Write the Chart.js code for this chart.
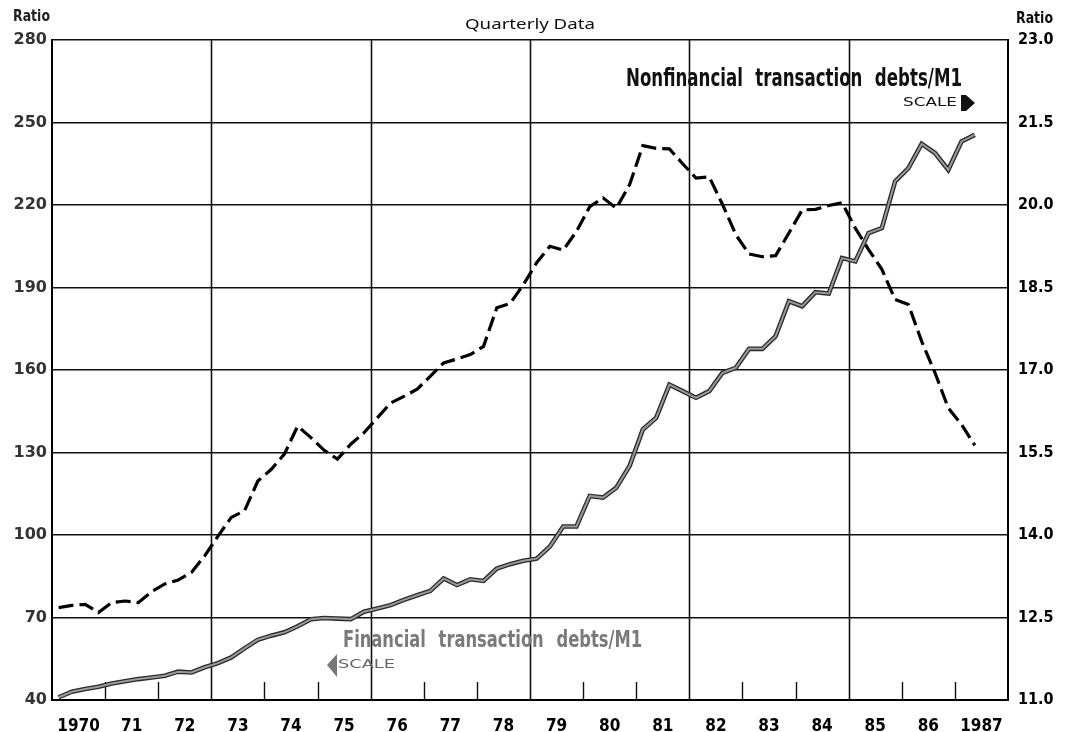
<!DOCTYPE html>
<html>
<head>
<meta charset="utf-8">
<script src="https://cdn.jsdelivr.net/npm/chart.js@4.4.1/dist/chart.umd.min.js"></script>
<style>
  html, body { margin: 0; padding: 0; background: #fff; }
</style>
</head>
<body>
<canvas id="chart" width="1072" height="732"></canvas>
<script>
// Quarterly data, first point = 1970 Q1, last point = 1987 Q2
const firstYear = 1970;
const lastYear = 1988;

// left scale
const financialDebtsM1 = [
    41.0, 43.0, 44.0, 44.8,     // 1970
    46.0, 46.8, 47.6, 48.2,     // 1971
    48.8, 50.3, 50.0, 51.9,     // 1972
    53.4, 55.5, 58.8, 61.9,     // 1973
    63.4, 64.6, 66.8, 69.4,     // 1974
    69.8, 69.6, 69.4, 72.1,     // 1975
    73.3, 74.5, 76.4, 78.1,     // 1976
    79.7, 84.2, 81.8, 83.9,     // 1977
    83.3, 87.8, 89.4, 90.6,     // 1978
    91.4, 95.8, 103.1, 103.1,   // 1979
    114.2, 113.6, 117.2, 125.1, // 1980
    138.4, 142.6, 154.7, 152.3, // 1981
    149.9, 152.3, 159.0, 160.8, // 1982
    167.7, 167.7, 172.3, 185.0, // 1983
    183.2, 188.3, 187.8, 200.7, // 1984
    199.5, 209.8, 211.6, 228.6, // 1985
    233.4, 242.2, 238.9, 232.8, // 1986
    243.1, 245.5                // 1987
];

// right scale
const nonfinancialDebtsM1 = [
    12.68, 12.72, 12.74, 12.59, // 1970
    12.77, 12.80, 12.77, 12.97, // 1971
    13.11, 13.18, 13.32, 13.62, // 1972
    13.98, 14.32, 14.44, 14.98, // 1973
    15.19, 15.47, 15.98, 15.77, // 1974
    15.54, 15.38, 15.65, 15.86, // 1975
    16.13, 16.40, 16.52, 16.65, // 1976
    16.89, 17.13, 17.20, 17.28, // 1977
    17.43, 18.13, 18.21, 18.55, // 1978
    18.95, 19.25, 19.18, 19.52, // 1979
    19.97, 20.13, 19.94, 20.37, // 1980
    21.08, 21.03, 21.02, 20.75, // 1981
    20.49, 20.51, 20.01, 19.46, // 1982
    19.11, 19.06, 19.08, 19.49, // 1983
    19.91, 19.92, 19.99, 20.04, // 1984
    19.58, 19.19, 18.83, 18.28, // 1985
    18.19, 17.52, 16.95, 16.31, // 1986
    16.01, 15.63                // 1987
];

const yearLabels = ['1970', '71', '72', '73', '74', '75', '76', '77', '78',
    '79', '80', '81', '82', '83', '84', '85', '86', '1987'];
const leftTicks = [40, 70, 100, 130, 160, 190, 220, 250, 280];
const rightTicks = [11.0, 12.5, 14.0, 15.5, 17.0, 18.5, 20.0, 21.5, 23.0];
const gridYears = [1973, 1976, 1979, 1982, 1985];

const condensed = '"DejaVu Sans Condensed", "Liberation Sans Narrow", "DejaVu Sans", sans-serif';

// quarter i sits in the middle of its quarter
const toPoints = values => values.map((v, i) => ({ x: firstYear + (i + 0.5) / 4, y: v }));

// vertical grid every 3 years + short inside ticks for every year
const yearGrid = {
    id: 'yearGrid',
    beforeDatasetsDraw(chart) {
        const { ctx, chartArea: { top, bottom }, scales: { x } } = chart;
        ctx.save();
        ctx.strokeStyle = '#111';
        for (let yr = firstYear + 1; yr < lastYear; yr++) {
            const px = Math.round(x.getPixelForValue(yr)) + 0.5;
            const full = gridYears.includes(yr);
            ctx.lineWidth = full ? 1.6 : 1.4;
            ctx.beginPath();
            ctx.moveTo(px, bottom);
            ctx.lineTo(px, full ? top : bottom - 18);
            ctx.stroke();
        }
        ctx.restore();
    }
};

// text squeezed/stretched to a given width
function fitText(ctx, text, x, y, width, font, color, wordGap) {
    ctx.save();
    ctx.font = font;
    ctx.fillStyle = color;
    ctx.textBaseline = 'middle';
    ctx.textAlign = 'left';
    if (wordGap) ctx.wordSpacing = wordGap;
    const w = ctx.measureText(text).width;
    ctx.translate(x, y);
    ctx.scale(width / w, 1);
    ctx.fillText(text, 0, 0);
    ctx.restore();
}

const annotations = {
    id: 'annotations',
    afterDraw(chart) {
        const { ctx } = chart;
        fitText(ctx, 'Ratio', 13, 17, 37, 'bold 15px "DejaVu Sans", sans-serif', '#222');
        fitText(ctx, 'Ratio', 1016, 19, 37, 'bold 16px ' + condensed, '#111');
        fitText(ctx, 'Quarterly Data', 465, 25, 130, '14px "Noto Sans", sans-serif', '#111');

        fitText(ctx, 'Nonfinancial transaction debts/M1', 626, 79, 336, 'bold 25px ' + condensed, '#111', '9px');
        fitText(ctx, 'SCALE', 903, 103, 54, '13px "DejaVu Sans", sans-serif', '#111');
        // right arrow
        ctx.save();
        ctx.fillStyle = '#111';
        ctx.beginPath();
        ctx.moveTo(961, 95); ctx.lineTo(966, 95); ctx.lineTo(975, 103);
        ctx.lineTo(966, 111); ctx.lineTo(961, 111); ctx.closePath();
        ctx.fill();
        ctx.restore();

        fitText(ctx, 'Financial transaction debts/M1', 343, 641, 299, 'bold 23px ' + condensed, '#7a7a7a', '9px');
        fitText(ctx, 'SCALE', 338, 665, 57, '13px "DejaVu Sans", sans-serif', '#666');
        // left arrow
        ctx.save();
        ctx.fillStyle = '#777';
        ctx.beginPath();
        ctx.moveTo(337, 654); ctx.lineTo(327, 665); ctx.lineTo(337, 677); ctx.closePath();
        ctx.fill();
        ctx.restore();
    }
};

new Chart(document.getElementById('chart').getContext('2d'), {
    type: 'line',
    data: {
        datasets: [
            {
                label: 'Financial transaction debts/M1',
                data: toPoints(financialDebtsM1),
                yAxisID: 'y',
                borderColor: '#9a9a9a',
                borderWidth: 2,
                pointRadius: 0,
                tension: 0,
                order: 0
            },
            {
                label: 'Financial outline',
                data: toPoints(financialDebtsM1),
                yAxisID: 'y',
                borderColor: '#2a2a2a',
                borderWidth: 4.6,
                pointRadius: 0,
                tension: 0,
                order: 1
            },
            {
                label: 'Nonfinancial transaction debts/M1',
                data: toPoints(nonfinancialDebtsM1),
                yAxisID: 'y2',
                borderColor: '#000',
                borderWidth: 3.2,
                borderDash: [15, 6],
                pointRadius: 0,
                tension: 0,
                order: 2
            }
        ]
    },
    options: {
        responsive: false,
        animation: false,
        devicePixelRatio: 1,
        layout: { padding: { top: 40, left: 0, right: 0, bottom: 0 } },
        plugins: {
            legend: { display: false },
            tooltip: { enabled: false }
        },
        scales: {
            x: {
                type: 'linear',
                position: 'bottom',
                min: firstYear,
                max: lastYear,
                afterBuildTicks: s => { s.ticks = yearLabels.map((l, i) => ({ value: firstYear + i + 0.5 })); },
                afterFit: s => { s.height = 32; },
                ticks: {
                    autoSkip: false,
                    maxRotation: 0,
                    padding: 8,
                    color: '#000',
                    font: { family: condensed, size: 17, weight: 'bold' },
                    callback: (v, i) => yearLabels[i]
                },
                grid: { display: false },
                border: { display: true, color: '#000', width: 2 }
            },
            y: {
                type: 'linear',
                position: 'left',
                min: 40,
                max: 280,
                afterBuildTicks: s => { s.ticks = leftTicks.map(v => ({ value: v })); },
                afterFit: s => { s.width = 52; },
                ticks: {
                    padding: 5,
                    color: '#333',
                    font: { family: '"DejaVu Sans", sans-serif', size: 16, weight: 'bold' },
                    callback: v => String(v)
                },
                grid: { color: '#111', lineWidth: 1.4, drawTicks: false },
                border: { color: '#000', width: 2 }
            },
            y2: {
                type: 'linear',
                position: 'right',
                min: 11,
                max: 23,
                afterBuildTicks: s => { s.ticks = rightTicks.map(v => ({ value: v })); },
                afterFit: s => { s.width = 64; },
                ticks: {
                    padding: 10,
                    color: '#000',
                    font: { family: condensed, size: 16, weight: 'bold' },
                    callback: v => v.toFixed(1)
                },
                grid: { display: false, drawTicks: false },
                border: { color: '#000', width: 2 }
            }
        }
    },
    plugins: [yearGrid, annotations]
});
</script>
</body>
</html>
